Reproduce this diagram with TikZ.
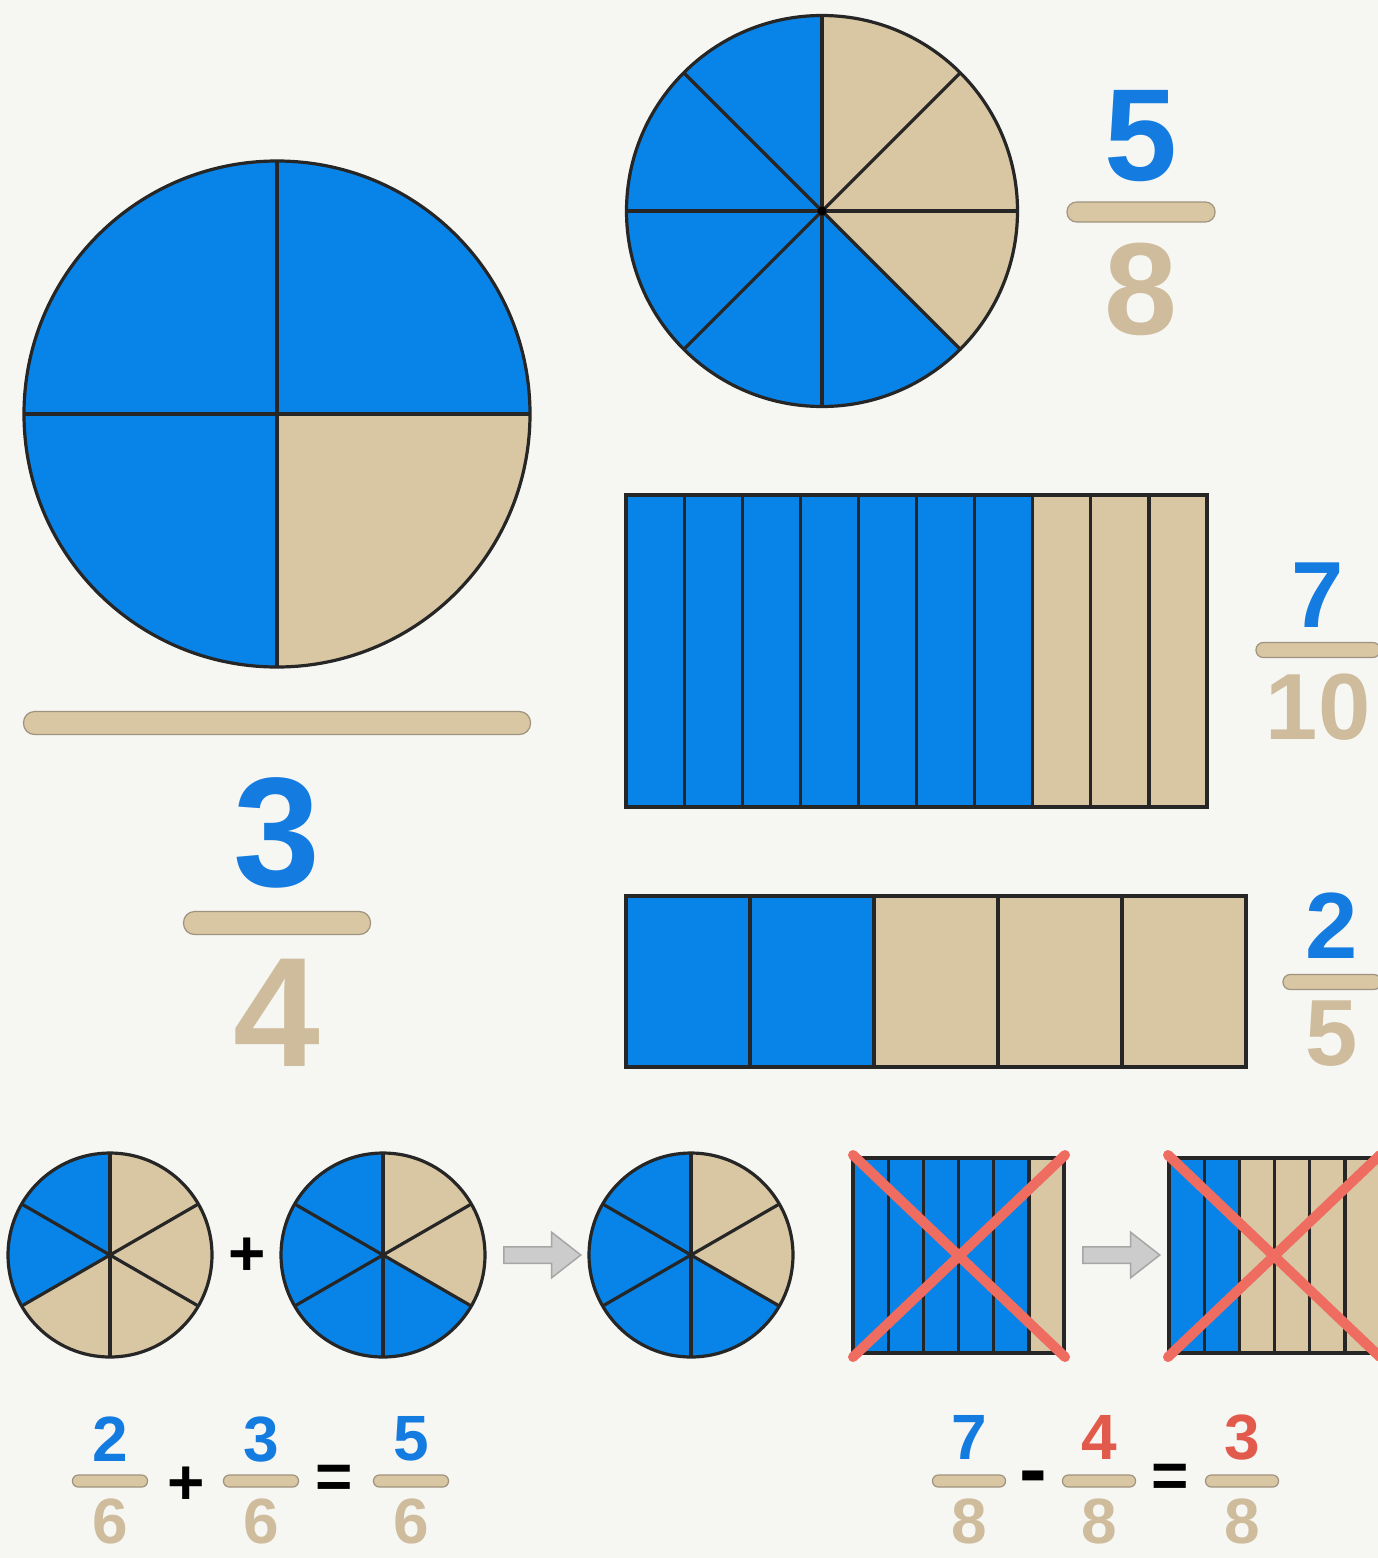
\documentclass[tikz,border=0pt]{standalone}
\usepackage{fontspec}
\setmainfont{Liberation Sans}
\usetikzlibrary{shapes.arrows}
\definecolor{fracblue}{RGB}{8,132,232}
\definecolor{numblue}{RGB}{20,124,224}
\definecolor{fractan}{RGB}{217,199,164}
\definecolor{numtan}{RGB}{206,188,156}
\definecolor{baredge}{RGB}{160,147,126}
\definecolor{crossred}{RGB}{238,108,96}
\definecolor{numred}{RGB}{226,90,76}
\definecolor{paper}{RGB}{246,246,243}

\begin{document}
\begin{tikzpicture}[x=1pt,y=1pt,yscale=-1,
  pieline/.style={draw=black!85,line width=3.2pt},
  fracbar/.style={rectangle,fill=fractan,draw=baredge,line width=1.2pt,inner sep=0pt,minimum height=#1,rounded corners=0.48*#1},
  numhuge/.style={inner sep=0pt,font=\fontsize{156}{156}\selectfont\bfseries},
  numbig/.style={inner sep=0pt,font=\fontsize{131}{131}\selectfont\bfseries},
  nummid/.style={inner sep=0pt,font=\fontsize{94}{94}\selectfont\bfseries},
  numsmall/.style={inner sep=0pt,font=\fontsize{64}{64}\selectfont\bfseries},
  crossline/.style={draw=crossred,line width=10pt,line cap=round},
  grayarrow/.style={single arrow,fill=black!20,draw=black!35,line width=1.5pt,inner xsep=0pt,inner ysep=7.5pt,single arrow head extend=14.5pt,single arrow tip angle=76,minimum height=77pt}]

\clip (0,0) rectangle (1378,1558);
\fill[paper] (0,0) rectangle (1378,1558);

% big pie 3/4
\begin{scope}[shift={(277,414)},yscale=-1]
\foreach \a/\c in {0/fracblue,90/fracblue,180/fracblue,270/fractan}
  \fill[\c] (0,0) -- (\a:253) arc[start angle=\a,delta angle=90,radius=253] -- cycle;
\foreach \a in {0,90,180,270} \draw[pieline] (0,0) -- (\a:253);
\draw[pieline] (0,0) circle[radius=253];
\end{scope}

% pie 5/8
\begin{scope}[shift={(822,211)},yscale=-1]
\foreach \a/\c in {90/fracblue,135/fracblue,180/fracblue,225/fracblue,270/fracblue,315/fractan,0/fractan,45/fractan}
  \fill[\c] (0,0) -- (\a:195.5) arc[start angle=\a,delta angle=45,radius=195.5] -- cycle;
\foreach \a in {0,45,...,315} \draw[pieline] (0,0) -- (\a:195.5);
\draw[pieline] (0,0) circle[radius=195.5];
\fill[black] (0,0) circle[radius=4.5];
\end{scope}

% bar 7/10
\fill[fracblue] (626,495) rectangle (1032.7,807);
\fill[fractan] (1032.7,495) rectangle (1207,807);
\foreach \i in {1,...,9} \draw[pieline] ({626+58.1*\i},495) -- ++(0,312);
\draw[pieline] (626,495) rectangle (1207,807);

% bar 2/5
\fill[fracblue] (626,896) rectangle (874,1067);
\fill[fractan] (874,896) rectangle (1246,1067);
\foreach \i in {1,...,4} \draw[pieline] ({626+124*\i},896) -- ++(0,171);
\draw[pieline] (626,896) rectangle (1246,1067);

% small pies
\begin{scope}[shift={(110,1255)},yscale=-1]
\foreach \a/\c in {90/fracblue,150/fracblue,210/fractan,270/fractan,330/fractan,30/fractan}
  \fill[\c] (0,0) -- (\a:102) arc[start angle=\a,delta angle=60,radius=102] -- cycle;
\foreach \a in {30,90,...,330} \draw[pieline] (0,0) -- (\a:102);
\draw[pieline] (0,0) circle[radius=102];
\end{scope}
\begin{scope}[shift={(383,1255)},yscale=-1]
\foreach \a/\c in {90/fracblue,150/fracblue,210/fracblue,270/fracblue,330/fractan,30/fractan}
  \fill[\c] (0,0) -- (\a:102) arc[start angle=\a,delta angle=60,radius=102] -- cycle;
\foreach \a in {30,90,...,330} \draw[pieline] (0,0) -- (\a:102);
\draw[pieline] (0,0) circle[radius=102];
\end{scope}
\begin{scope}[shift={(691,1255)},yscale=-1]
\foreach \a/\c in {90/fracblue,150/fracblue,210/fracblue,270/fracblue,330/fractan,30/fractan}
  \fill[\c] (0,0) -- (\a:102) arc[start angle=\a,delta angle=60,radius=102] -- cycle;
\foreach \a in {30,90,...,330} \draw[pieline] (0,0) -- (\a:102);
\draw[pieline] (0,0) circle[radius=102];
\end{scope}

% crossed strips
\fill[fracblue] (853,1158) rectangle (1029,1353);
\fill[fractan] (1029,1158) rectangle (1064,1353);
\foreach \i in {1,...,5} \draw[pieline] ({853+35.2*\i},1158) -- ++(0,195);
\draw[pieline] (853,1158) rectangle (1064,1353);
\draw[crossline] (853,1155) -- (1065,1357);
\draw[crossline] (1065,1155) -- (853,1357);

\fill[fracblue] (1169,1158) rectangle (1241,1353);
\fill[fractan] (1241,1158) rectangle (1380,1353);
\foreach \i in {1,...,5} \draw[pieline] ({1169+35.2*\i},1158) -- ++(0,195);
\draw[pieline] (1169,1158) rectangle (1380,1353);
\draw[crossline] (1168,1155) -- (1380,1357);
\draw[crossline] (1380,1155) -- (1168,1357);

\node[grayarrow] (arrowPie) at (537,1255) {};
\node[grayarrow] (arrowStrip) at (1116,1255) {};
\node[numsmall] (plusPie) at (247,1257) {+};

% fractions
\node[fracbar=23pt,minimum width=507pt] (bigbar) at (277,723) {};
\node[numhuge,text=numblue] (num3) at (277,833) {3};
\node[fracbar=23pt,minimum width=187pt] (bar34) at (277,923) {};
\node[numhuge,text=numtan] (den4) at (277,1013) {4};

\node[numbig,text=numblue] (num5) at (1141,136) {5};
\node[fracbar=20pt,minimum width=148pt] (bar58) at (1141,212) {};
\node[numbig,text=numtan] (den8) at (1141,289) {8};

\node[nummid,text=numblue] (num7) at (1318,595) {7};
\node[fracbar=15pt,minimum width=124pt] (bar710) at (1318,650) {};
\node[nummid,text=numtan] (den10) at (1318,707) {10};

\node[nummid,text=numblue] (num2) at (1332,926) {2};
\node[fracbar=15pt,minimum width=98pt] (bar25) at (1332,982) {};
\node[nummid,text=numtan] (den5) at (1332,1034) {5};

% 2/6 + 3/6 = 5/6
\node[numsmall,text=numblue] (addA) at (110,1439) {2};
\node[fracbar=12pt,minimum width=75pt] (addAbar) at (110,1481) {};
\node[numsmall,text=numtan] (addAden) at (110,1521) {6};
\node[numsmall] (addPlus) at (186,1486) {+};
\node[numsmall,text=numblue] (addB) at (261,1439) {3};
\node[fracbar=12pt,minimum width=75pt] (addBbar) at (261,1481) {};
\node[numsmall,text=numtan] (addBden) at (261,1521) {6};
\node[numsmall] (addEq) at (334,1482) {=};
\node[numsmall,text=numblue] (addC) at (411,1439) {5};
\node[fracbar=12pt,minimum width=75pt] (addCbar) at (411,1481) {};
\node[numsmall,text=numtan] (addCden) at (411,1521) {6};

% 7/8 - 4/8 = 3/8
\node[numsmall,text=numblue] (subA) at (969,1437) {7};
\node[fracbar=12pt,minimum width=73pt] (subAbar) at (969,1481) {};
\node[numsmall,text=numtan] (subAden) at (969,1521) {8};
\node[numsmall,scale=1.3] (subMinus) at (1033,1484) {-};
\node[numsmall,text=numred] (subB) at (1099,1437) {4};
\node[fracbar=12pt,minimum width=73pt] (subBbar) at (1099,1481) {};
\node[numsmall,text=numtan] (subBden) at (1099,1521) {8};
\node[numsmall] (subEq) at (1170,1481) {=};
\node[numsmall,text=numred] (subC) at (1242,1437) {3};
\node[fracbar=12pt,minimum width=73pt] (subCbar) at (1242,1481) {};
\node[numsmall,text=numtan] (subCden) at (1242,1521) {8};

\end{tikzpicture}
\end{document}
